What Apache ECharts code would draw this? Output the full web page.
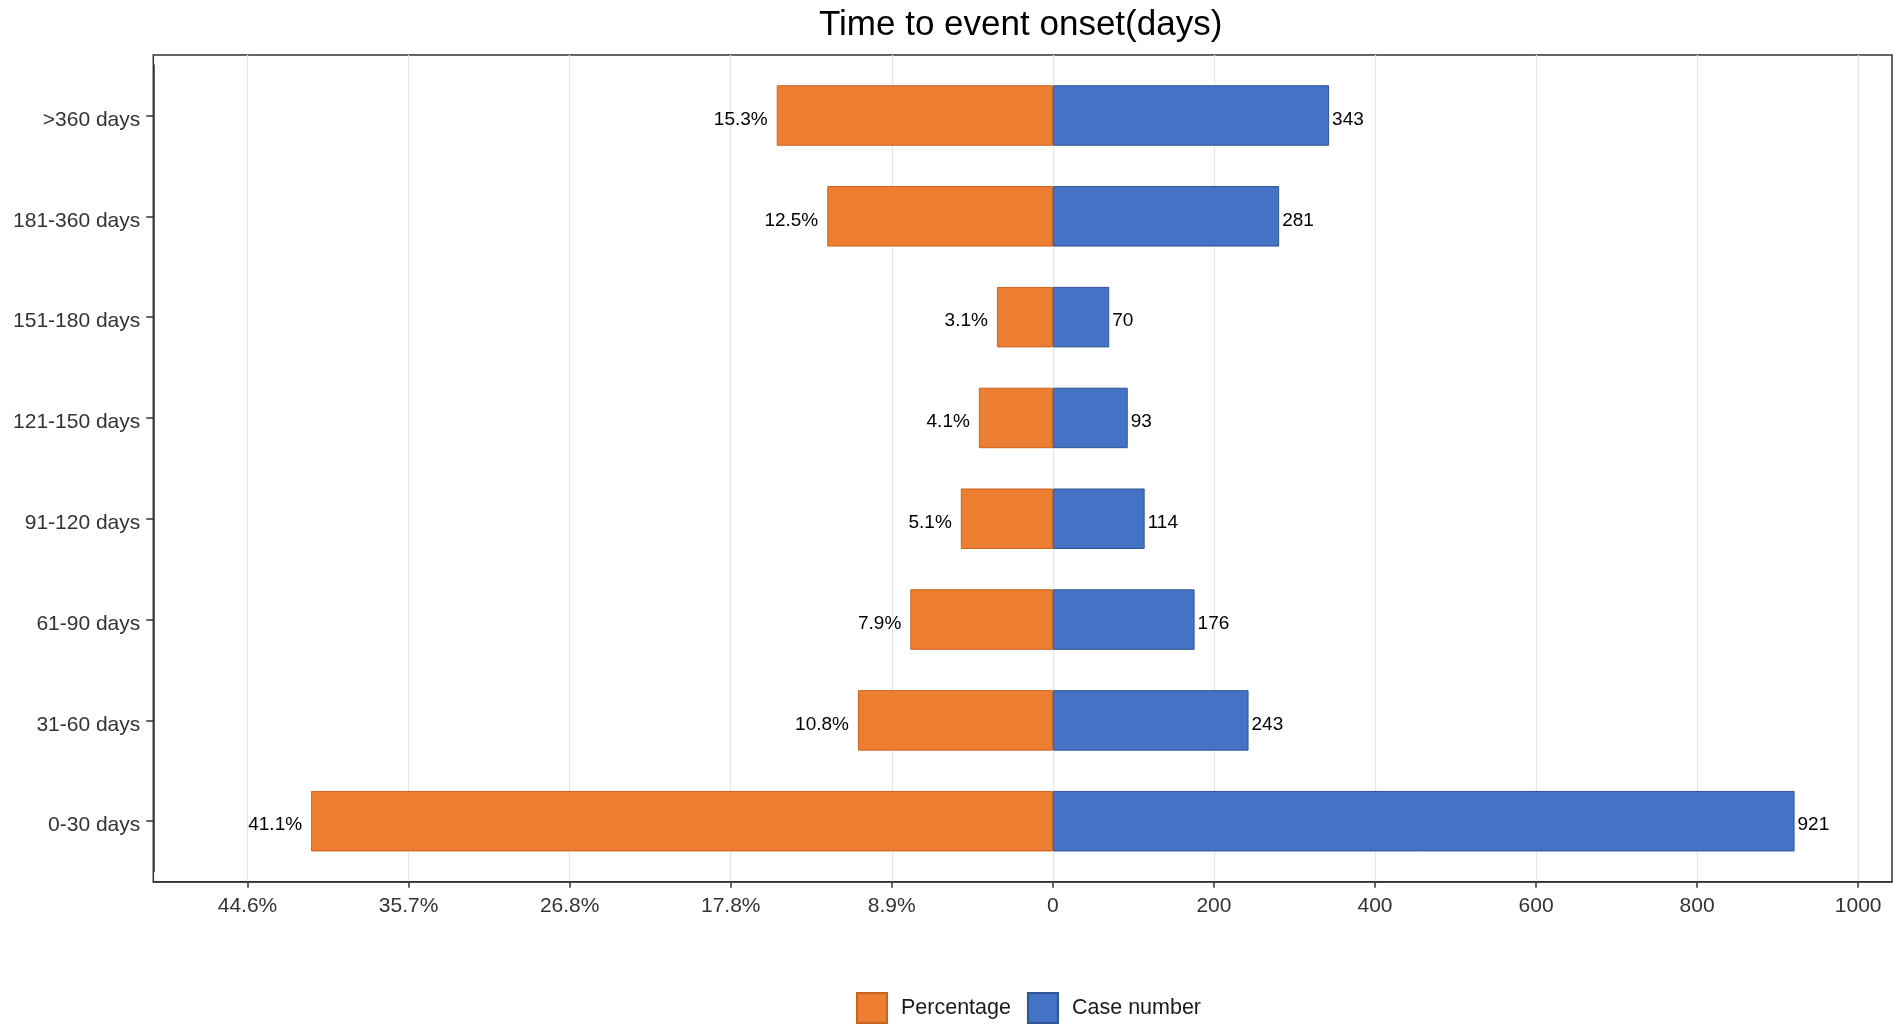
<!DOCTYPE html>
<html>
<head>
<meta charset="utf-8">
<script src="https://cdn.jsdelivr.net/npm/echarts@6/dist/echarts.min.js"></script>
<style>
html,body{margin:0;padding:0;background:#fff;}
#chart{width:1902px;height:1032px;}
</style>
</head>
<body>
<div id="chart"></div>
<script>
const categories = ['>360 days','181-360 days','151-180 days','121-150 days','91-120 days','61-90 days','31-60 days','0-30 days'];
const percentages = [15.3,12.5,3.1,4.1,5.1,7.9,10.8,41.1];
const caseNumbers = [343,281,70,93,114,176,243,921];
const tickValues = [-1000,-800,-600,-400,-200,0,200,400,600,800,1000];
const tickLabels = ['44.6%','35.7%','26.8%','17.8%','8.9%','0','200','400','600','800','1000'];

const totalCases = caseNumbers.reduce((a,b)=>a+b,0);
const pctAsCases = percentages.map(p => -p * totalCases / 100);

const FONT = 'Liberation Sans, Arial, sans-serif';
const xMin = -1117, xMax = 1042;

const chart = echarts.init(document.getElementById('chart'), null, {renderer:'canvas'});
chart.setOption({
  backgroundColor:'#fff',
  animation:false,
  textStyle:{fontFamily:FONT},
  title:{
    text:'Time to event onset(days)',
    left:819, top:8, padding:0,
    textStyle:{fontSize:35, fontWeight:'normal', color:'#000', fontFamily:FONT}
  },
  legend:{
    data:['Percentage','Case number'],
    left:856, top:992, padding:0,
    itemWidth:30, itemHeight:30, itemGap:16,
    icon:'rect',
    textStyle:{fontSize:21.5, color:'#1a1a1a', fontFamily:FONT, padding:[9,0,0,9]}
  },
  grid:[
    {left:153.3, right:10, top:55, height:826.7, show:true, borderColor:'#333', borderWidth:1.5, backgroundColor:'transparent', containLabel:false},
    {left:153.3, right:10, top:65.1, height:806.5, containLabel:false}
  ],
  xAxis:[
    {
      type:'value', gridIndex:0, min:xMin, max:xMax,
      axisLine:{show:true, onZero:false, lineStyle:{color:'#333', width:1.5}},
      axisTick:{show:true, customValues:tickValues, length:6, lineStyle:{color:'#333', width:1.5}},
      axisLabel:{show:true, customValues:tickValues, margin:14, fontSize:21, color:'#333', fontFamily:FONT,
        formatter:function(v){const i=tickValues.indexOf(Math.round(v)); return i>=0?tickLabels[i]:'';}},
      splitLine:{show:true, lineStyle:{color:'#e6e6e6', width:1.2}}
    },
    {
      type:'value', gridIndex:1, min:xMin, max:xMax, show:false,
      splitLine:{show:false}
    }
  ],
  yAxis:[
    {type:'value', gridIndex:0, show:false, splitLine:{show:false}},
    {
      type:'category', gridIndex:1, data:categories, inverse:true,
      axisLine:{show:true, onZero:false, lineStyle:{color:'#333', width:1.5}},
      axisTick:{show:true, alignWithLabel:true, length:7, lineStyle:{color:'#333', width:1.5}},
      axisLabel:{fontSize:21, color:'#333', margin:13, fontFamily:FONT, verticalAlign:'top', lineHeight:9},
      splitLine:{show:false}
    }
  ],
  series:[
    {
      name:'Percentage', type:'bar', xAxisIndex:1, yAxisIndex:1, stack:'total',
      barWidth:'60%',
      data:pctAsCases,
      itemStyle:{color:'#ED7D31', borderColor:'#C9651F', borderWidth:1},
      label:{show:true, position:'left', distance:9, fontSize:19, color:'#000', fontFamily:FONT, offset:[0,4],
        formatter:function(p){return percentages[p.dataIndex].toFixed(1)+'%';}}
    },
    {
      name:'Case number', type:'bar', xAxisIndex:1, yAxisIndex:1, stack:'total',
      barWidth:'60%',
      data:caseNumbers,
      itemStyle:{color:'#4472C4', borderColor:'#2F5597', borderWidth:1},
      label:{show:true, position:'right', distance:3, fontSize:19, color:'#000', fontFamily:FONT, offset:[0,4]}
    }
  ]
});
</script>
</body>
</html>
